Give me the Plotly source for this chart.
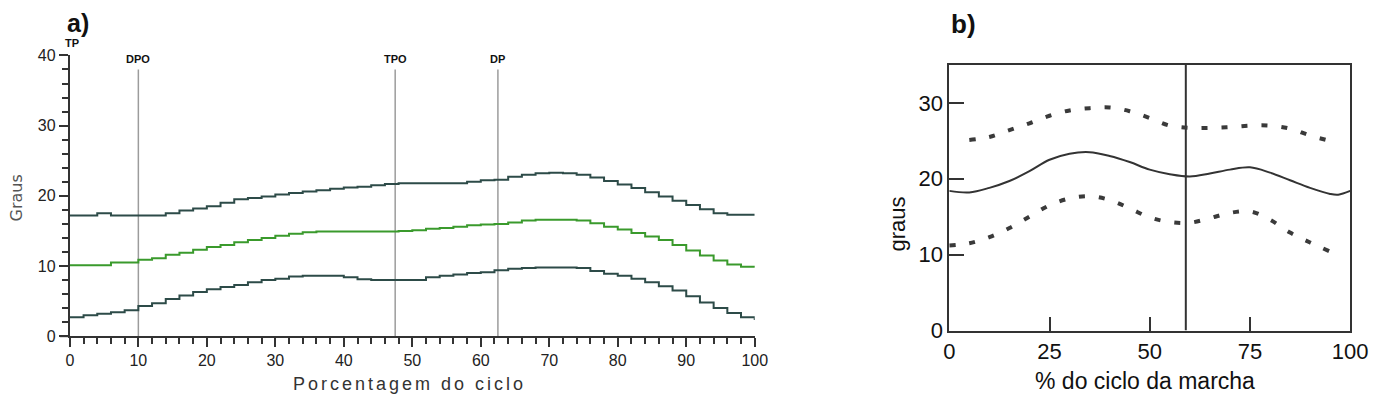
import plotly.graph_objects as go

# ---------------- Panel a data ----------------
a_x = list(range(0, 101, 2))
a_upper = [17.2, 17.2, 17.5, 17.2, 17.2, 17.2, 17.2, 17.5, 17.9, 18.2, 18.5, 19.0, 19.5, 19.7, 19.9, 20.2,
           20.4, 20.6, 20.8, 21.0, 21.2, 21.3, 21.5, 21.7, 21.8, 21.8, 21.8, 21.8, 21.8, 22.0, 22.2, 22.3,
           22.7, 23.0, 23.2, 23.3, 23.2, 23.0, 22.6, 22.1, 21.6, 21.1, 20.5, 19.9, 19.3, 18.7, 18.1, 17.5,
           17.3, 17.3, 17.3]
a_mean = [10.1, 10.1, 10.1, 10.5, 10.5, 10.9, 11.1, 11.6, 11.9, 12.3, 12.7, 13.0, 13.4, 13.7, 14.0, 14.3,
          14.6, 14.8, 14.9, 14.9, 14.9, 14.9, 14.9, 14.9, 15.0, 15.1, 15.3, 15.4, 15.6, 15.8, 15.9, 16.0,
          16.2, 16.5, 16.6, 16.6, 16.6, 16.5, 16.1, 15.6, 15.2, 14.7, 14.2, 13.7, 13.0, 12.2, 11.5, 10.8,
          10.2, 9.9, 9.8]
a_lower = [2.7, 3.0, 3.2, 3.4, 3.7, 4.3, 4.7, 5.3, 5.8, 6.3, 6.7, 7.0, 7.3, 7.7, 8.0, 8.2,
           8.5, 8.6, 8.6, 8.6, 8.4, 8.1, 8.0, 8.0, 8.0, 8.0, 8.4, 8.6, 8.8, 9.0, 9.1, 9.4,
           9.6, 9.7, 9.8, 9.8, 9.8, 9.7, 9.3, 8.9, 8.6, 8.2, 7.7, 7.1, 6.5, 5.7, 4.8, 4.0,
           3.3, 2.7, 2.3]
a_events = ["DPO", "TPO", "DP"]
a_event_x = [10, 47.5, 62.5]
a_xticks = list(range(0, 101, 10))
a_yticks = [0, 10, 20, 30, 40]

# ---------------- Panel b data ----------------
b_mean_x = [0, 5, 10, 15, 20, 25, 30, 35, 40, 45, 50, 55, 60, 65, 70, 75, 80, 85, 90, 95, 97, 100]
b_mean = [18.4, 18.2, 18.8, 19.7, 21.0, 22.5, 23.3, 23.5, 23.0, 22.2, 21.2, 20.6, 20.3, 20.7, 21.2, 21.5,
          20.8, 19.8, 18.8, 18.0, 17.9, 18.4]
b_up_x = [5, 10, 15, 20, 25, 30, 35, 40, 45, 50, 55, 60, 65, 70, 75, 80, 85, 90, 95, 97]
b_up = [25.1, 25.5, 26.4, 27.3, 28.3, 29.0, 29.3, 29.4, 28.9, 28.0, 27.0, 26.7, 26.7, 26.8, 27.0, 27.0,
        26.6, 25.7, 25.0, 24.8]
b_lo_x = [0, 5, 10, 15, 20, 25, 30, 35, 40, 45, 50, 55, 60, 65, 70, 75, 80, 85, 90, 95]
b_lo = [11.2, 11.5, 12.3, 13.5, 15.0, 16.5, 17.4, 17.7, 17.2, 16.1, 14.9, 14.3, 14.2, 14.8, 15.5, 15.7,
        14.6, 12.9, 11.6, 10.4]
b_event_x = 59
b_xticks = [0, 25, 50, 75, 100]
b_yticks = [0, 10, 20, 30]

W, H = 1378, 408


def fx(px):
    return px / W


def fy(py):
    return 1 - py / H


dark = "#2d4b48"
green = "#3a9a2c"

fig = go.Figure()

for ex in a_event_x:
    fig.add_trace(go.Scatter(x=[ex, ex], y=[0, 38], mode="lines",
                             line=dict(color="#9c9c9c", width=1.5),
                             xaxis="x", yaxis="y", showlegend=False, hoverinfo="skip"))

for ys, col in [(a_upper, dark), (a_mean, green), (a_lower, dark)]:
    fig.add_trace(go.Scatter(x=a_x, y=ys, mode="lines", line=dict(color=col, width=2, shape="hv"),
                             xaxis="x", yaxis="y", showlegend=False))

fig.add_trace(go.Scatter(x=[b_event_x, b_event_x], y=[0, 35], mode="lines",
                         line=dict(color="#333333", width=2), xaxis="x2", yaxis="y2",
                         showlegend=False, hoverinfo="skip"))
fig.add_trace(go.Scatter(x=b_mean_x, y=b_mean, mode="lines",
                         line=dict(color="#333333", width=2, shape="spline"),
                         xaxis="x2", yaxis="y2", showlegend=False))
for xs, ys in [(b_up_x, b_up), (b_lo_x, b_lo)]:
    fig.add_trace(go.Scatter(x=xs, y=ys, mode="lines",
                             line=dict(color="#3a3a3a", width=4, dash="6px,14px", shape="spline"),
                             xaxis="x2", yaxis="y2", showlegend=False))

tickfont_a = dict(family="Liberation Sans", size=16, color="#222222")
tickfont_b = dict(family="Liberation Sans", size=22, color="#111111")

fig.update_layout(
    width=W, height=H, margin=dict(l=0, r=0, t=0, b=0),
    paper_bgcolor="white", plot_bgcolor="white",
    xaxis=dict(domain=[fx(65), fx(762)], range=[0, 100], tickvals=a_xticks,
               showline=True, linecolor="#333333", linewidth=2, showgrid=False, zeroline=False,
               ticks="outside", ticklen=9, tickwidth=2, tickcolor="#333333",
               minor=dict(dtick=2, ticks="outside", ticklen=6, tickwidth=1.5, tickcolor="#333333"),
               tickfont=tickfont_a, anchor="y"),
    yaxis=dict(domain=[fy(346), fy(50)], range=[0, 40], tickvals=a_yticks,
               showline=True, linecolor="#333333", linewidth=2, showgrid=False, zeroline=False,
               ticks="outside", ticklen=9, tickwidth=2, tickcolor="#333333",
               minor=dict(dtick=2, ticks="outside", ticklen=6, tickwidth=1.5, tickcolor="#333333"),
               tickfont=tickfont_a, anchor="x"),
    xaxis2=dict(domain=[fx(960), fx(1368)], range=[0, 100], tickvals=b_xticks,
                showline=True, mirror=True, linecolor="#333333", linewidth=2, showgrid=False,
                zeroline=False, ticks="inside", ticklen=14, tickwidth=2, tickcolor="#333333",
                tickfont=tickfont_b, anchor="y2"),
    yaxis2=dict(domain=[fy(340), fy(60)], range=[0, 35], tickvals=b_yticks,
                showline=True, mirror=True, linecolor="#333333", linewidth=2, showgrid=False,
                zeroline=False, ticks="inside", ticklen=15, tickwidth=2, tickcolor="#333333",
                tickfont=tickfont_b, anchor="x2"),
)

ann = []
ann.append(dict(text="<b>a)</b>", x=fx(73), y=1, xref="paper", yref="paper", borderpad=0,
                showarrow=False, font=dict(family="Liberation Sans", size=25, color="#111111"),
                xanchor="center", yanchor="top"))
ann.append(dict(text="<b>b)</b>", x=fx(974), y=1, xref="paper", yref="paper", borderpad=0,
                showarrow=False, font=dict(family="Liberation Sans", size=26, color="#111111"),
                xanchor="center", yanchor="top"))
ann.append(dict(text="<b>TP</b>", x=fx(67), y=fy(37), xref="paper", yref="paper", showarrow=False,
                font=dict(family="Liberation Sans", size=11, color="#111111"),
                xanchor="center", yanchor="middle"))
for name, ex in zip(a_events, a_event_x):
    ann.append(dict(text="<b>%s</b>" % name, x=ex, y=39.5, xref="x", yref="y", showarrow=False,
                    font=dict(family="Liberation Sans", size=11, color="#111111")))
ann.append(dict(text="Graus", x=fx(11), y=fy(200), xref="paper", yref="paper", showarrow=False,
                textangle=-90, font=dict(family="DejaVu Sans", size=16, color="#555555"),
                xanchor="center", yanchor="middle"))
ann.append(dict(text='<span style="letter-spacing:3px">Porcentagem do ciclo</span>',
                x=fx(411), y=0, xref="paper", yref="paper", showarrow=False, borderpad=0,
                font=dict(family="Liberation Sans", size=18, color="#333333"),
                xanchor="center", yanchor="bottom"))
ann.append(dict(text="graus", x=fx(907), y=fy(228), xref="paper", yref="paper", showarrow=False,
                textangle=-90, font=dict(family="Liberation Sans", size=22, color="#111111"),
                xanchor="center", yanchor="middle"))
ann.append(dict(text="% do ciclo da marcha", x=fx(1159), y=0, xref="paper", yref="paper",
                showarrow=False, borderpad=0,
                font=dict(family="Liberation Sans", size=23, color="#111111"),
                xanchor="center", yanchor="bottom"))
fig.update_layout(annotations=ann)

fig.add_shape(type="line", xref="paper", yref="paper", x0=fx(55), x1=fx(65), y0=fy(346), y1=fy(346),
              line=dict(color="#333333", width=2))

fig.write_html("out.html")
